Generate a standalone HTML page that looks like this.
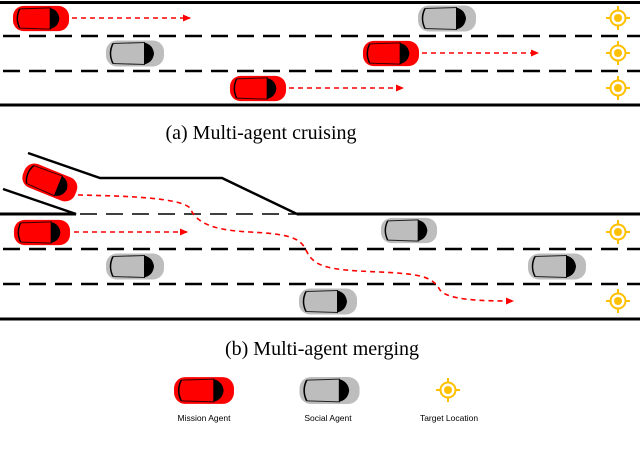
<!DOCTYPE html>
<html><head><meta charset="utf-8"><style>
html,body{margin:0;padding:0;background:#fff;width:640px;height:459px;overflow:hidden}
svg{display:block}
</style></head><body>
<svg width="640" height="459" viewBox="0 0 640 459" xmlns="http://www.w3.org/2000/svg">
<defs>
<symbol id="redcar" viewBox="-30 -14 60 28" overflow="visible">
<rect x="-29" y="-13" width="58" height="26" rx="11" fill="#ff0000"/>
<path d="M-22,-10 Q-27,0 -22,10" stroke="#000" stroke-width="1.5" fill="none"/>
<path d="M-22,-10 L10,-11 M-22,10 L10,11" stroke="#300" stroke-width="1" fill="none"/>
<path d="M9,-11 Q18,-9 19,0 Q18,9 9,11 Z" fill="#000"/>
</symbol>
<symbol id="graycar" viewBox="-30 -14 60 28" overflow="visible">
<rect x="-29" y="-13" width="58" height="26" rx="11" fill="#bdbdbd"/>
<path d="M-22,-10 Q-27,0 -22,10" stroke="#000" stroke-width="1.5" fill="none"/>
<path d="M-22,-10 L10,-11 M-22,10 L10,11" stroke="#222" stroke-width="1" fill="none"/>
<path d="M9,-11 Q18,-9 19,0 Q18,9 9,11 Z" fill="#000"/>
</symbol>
<symbol id="tgt" viewBox="-12 -12 24 24" overflow="visible">
<circle r="7.5" fill="none" stroke="#ffc000" stroke-width="2"/>
<circle r="4" fill="#ffc000"/>
<path d="M0,-12V-7.5M0,12V7.5M-12,0H-7.5M12,0H7.5" stroke="#ffc000" stroke-width="2"/>
</symbol>
<marker id="ah" markerWidth="8" markerHeight="8" refX="7" refY="4" orient="auto" markerUnits="userSpaceOnUse">
<path d="M0,0.5 L8,4 L0,7.5 Z" fill="#ff0000"/>
</marker>
</defs>
<g stroke="#000" fill="none">
<line x1="0" y1="2.5" x2="640" y2="2.5" stroke-width="3"/>
<line x1="3" y1="36" x2="640" y2="36" stroke-width="2.5" stroke-dasharray="17,9"/>
<line x1="3" y1="71" x2="640" y2="71" stroke-width="2.5" stroke-dasharray="17,9"/>
<line x1="0" y1="105" x2="640" y2="105" stroke-width="3"/>
<polyline points="28,153 100,178 222,178 297,214 640,214" stroke-width="2.5"/>
<polyline points="3,189 76,214 0,214" stroke-width="2.5"/>
<line x1="0" y1="214" x2="76" y2="214" stroke-width="3"/>
<line x1="80" y1="214" x2="297" y2="214" stroke-width="1.5" stroke-dasharray="17,9"/>
<line x1="297" y1="214" x2="640" y2="214" stroke-width="3"/>
<line x1="3" y1="249" x2="640" y2="249" stroke-width="2.5" stroke-dasharray="17,9"/>
<line x1="3" y1="284" x2="640" y2="284" stroke-width="2.5" stroke-dasharray="17,9"/>
<line x1="0" y1="319" x2="640" y2="319" stroke-width="3"/>
</g>
<g stroke="#ff0000" stroke-width="1.6" fill="none" stroke-dasharray="5,4">
<line x1="72" y1="18" x2="190" y2="18" marker-end="url(#ah)"/>
<line x1="422" y1="53" x2="538" y2="53" marker-end="url(#ah)"/>
<line x1="289" y1="88" x2="403" y2="88" marker-end="url(#ah)"/>
<line x1="74" y1="232" x2="187" y2="232" marker-end="url(#ah)"/>
<path d="M78,195 C130,196 180,198 190,208 C196,222 210,230 250,232 C290,234 300,238 306,250 C314,268 330,270 380,272 C420,274 432,276 440,290 C448,300 480,301 513,301" marker-end="url(#ah)"/>
</g>
<use href="#redcar" x="12" y="4" width="58" height="29"/>
<use href="#graycar" x="105" y="39" width="60" height="29"/>
<use href="#redcar" x="362" y="39" width="58" height="29"/>
<use href="#graycar" x="417" y="4" width="60" height="29"/>
<use href="#redcar" x="229" y="74" width="58" height="29"/>
<use href="#tgt" x="606" y="6" width="24" height="24"/>
<use href="#tgt" x="606" y="41" width="24" height="24"/>
<use href="#tgt" x="606" y="76" width="24" height="24"/>
<g transform="translate(50,182) rotate(22)"><use href="#redcar" x="-29" y="-14" width="58" height="29"/></g>
<use href="#redcar" x="13" y="218" width="58" height="29"/>
<use href="#graycar" x="105" y="252" width="60" height="29"/>
<use href="#graycar" x="380" y="216" width="58" height="29"/>
<use href="#graycar" x="527" y="252" width="60" height="29"/>
<use href="#graycar" x="298" y="287" width="60" height="29"/>
<use href="#tgt" x="606" y="220" width="24" height="24"/>
<use href="#tgt" x="606" y="289" width="24" height="24"/>
<use href="#redcar" x="173" y="376" width="62" height="29"/>
<use href="#graycar" x="297" y="376" width="65" height="29"/>
<use href="#tgt" x="436" y="378" width="24" height="24"/>
<g font-family="Liberation Serif, serif" font-size="20" fill="#000" text-anchor="middle">
<text x="261" y="139">(a) Multi-agent cruising</text>
<text x="322" y="355">(b) Multi-agent merging</text>
<text x="320" y="473" fill="#777">Figure 2: Multi-agent scenarios.</text>
</g>
<g font-family="Liberation Sans, sans-serif" font-size="8.5" fill="#000" text-anchor="middle">
<text x="204" y="421">Mission Agent</text>
<text x="328" y="421">Social Agent</text>
<text x="449" y="421">Target Location</text>
</g>
</svg>
</body></html>
